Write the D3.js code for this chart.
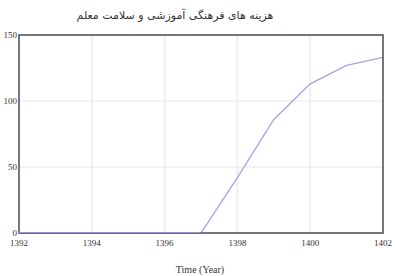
<!DOCTYPE html>
<html>
<head>
<meta charset="utf-8">
<script src="https://cdn.jsdelivr.net/npm/d3@7"></script>
<style>
  body { margin: 0; background: #fff; }
  text { font-family: "Liberation Serif", "DejaVu Serif", serif; fill: #333; }
</style>
</head>
<body>
<div id="chart"></div>
<script>
// data
let years = [1392, 1393, 1394, 1395, 1396, 1397, 1398, 1399, 1400, 1401, 1402];
let values = [0, 0, 0, 0, 0, 0, 42, 86, 113, 127, 133];
let xTicks = [1392, 1394, 1396, 1398, 1400, 1402];
let yTicks = [0, 50, 100, 150];
let title = "هزینه های فرهنگی آموزشی و سلامت معلم";
let xTitle = "Time (Year)";

let width = 395, height = 276;
let margin = {left: 19, right: 12, top: 35, bottom: 43};

let svg = d3.select("#chart")
  .append("svg")
    .attr("width", width)
    .attr("height", height);

let x = d3.scaleLinear().domain([1392, 1402]).range([margin.left, width - margin.right]);
let y = d3.scaleLinear().domain([0, 150]).range([height - margin.bottom, margin.top]);

// grid
svg.selectAll(".vgrid").data(xTicks.slice(1, -1)).enter()
  .append("line")
    .attr("x1", d => x(d)).attr("x2", d => x(d))
    .attr("y1", y(150)).attr("y2", y(0))
    .attr("stroke", "#efefef")
    .attr("stroke-width", 2);

svg.selectAll(".hgrid").data(yTicks.slice(1, -1)).enter()
  .append("line")
    .attr("x1", x(1392)).attr("x2", x(1402))
    .attr("y1", d => y(d)).attr("y2", d => y(d))
    .attr("stroke", "#e6e6e6")
    .attr("stroke-width", 1);

// the series
let line = d3.line()
  .x((d, i) => x(years[i]))
  .y(d => y(d));

svg.append("path")
  .datum(values)
  .attr("d", line)
  .attr("fill", "none")
  .attr("stroke", "#a3a3ec")
  .attr("stroke-width", 1.3);

// frame
svg.append("rect")
  .attr("x", x(1392)).attr("y", y(150))
  .attr("width", x(1402) - x(1392))
  .attr("height", y(0) - y(150))
  .attr("fill", "none")
  .attr("stroke", "#555")
  .attr("stroke-width", 1.6);

// line sits on top of the bottom edge
svg.append("line")
  .attr("x1", x(1392)).attr("x2", x(1397))
  .attr("y1", y(0) - 0.5).attr("y2", y(0) - 0.5)
  .attr("stroke", "#9494dc")
  .attr("stroke-width", 1.2);

// tick labels
svg.selectAll(".xlab").data(xTicks).enter()
  .append("text")
    .attr("x", d => x(d))
    .attr("y", y(0) + 13)
    .attr("text-anchor", "middle")
    .style("font-size", "9px")
    .text(d => d);

svg.selectAll(".ylab").data(yTicks).enter()
  .append("text")
    .attr("x", margin.left - 2)
    .attr("y", d => y(d) + 3)
    .attr("text-anchor", "end")
    .style("font-size", "9px")
    .text(d => d);

svg.append("text")
  .attr("x", 200)
  .attr("y", 273)
  .attr("text-anchor", "middle")
  .style("font-size", "10px")
  .text(xTitle);

svg.append("text")
  .attr("x", 175)
  .attr("y", 19)
  .attr("text-anchor", "middle")
  .style("font-family", "'DejaVu Sans', 'Noto Sans', sans-serif")
  .style("font-size", "11px")
  .text(title);
</script>
</body>
</html>
